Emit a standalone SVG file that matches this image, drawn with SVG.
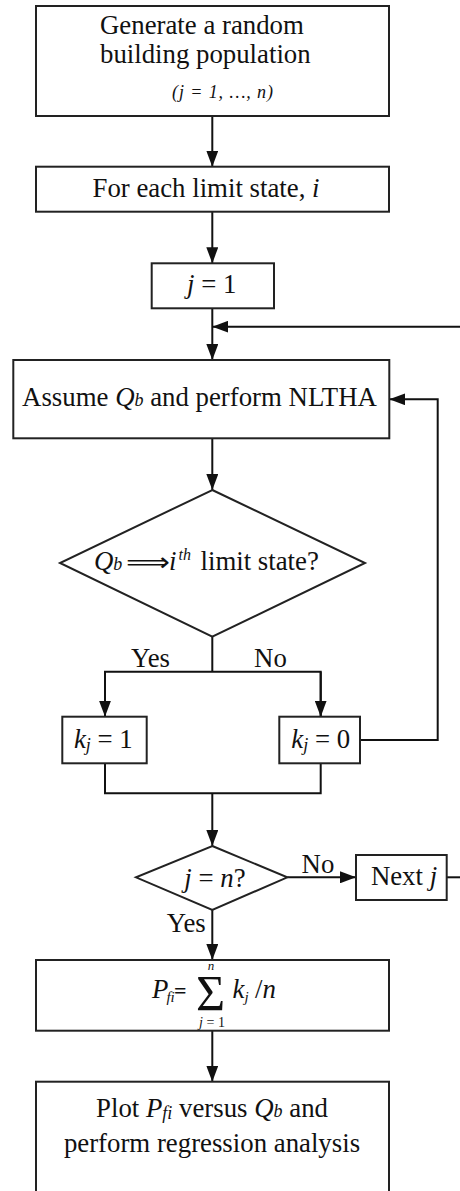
<svg xmlns="http://www.w3.org/2000/svg" width="460" height="1191" viewBox="0 0 460 1191">
<style>
.box{fill:#fff;stroke:#222;stroke-width:2}
.ln{fill:none;stroke:#111;stroke-width:2}
.t{font-family:"Liberation Serif","Times New Roman","DejaVu Serif",serif;font-size:26.8px;fill:#111}
.m{text-anchor:middle}
.i{font-style:italic}
</style>
<defs>
<marker id="ah" markerUnits="userSpaceOnUse" markerWidth="16" markerHeight="12" refX="16" refY="6" orient="auto">
<path d="M0,0 L16,6 L0,12 z" fill="#111"/>
</marker>
</defs>
<rect width="460" height="1191" fill="#fff"/>

<g id="connectors">
<path class="ln" d="M212.3,116 V166.7" marker-end="url(#ah)"/>
<path class="ln" d="M212.3,211.7 V263.3" marker-end="url(#ah)"/>
<path class="ln" d="M212.3,308.3 V360" marker-end="url(#ah)"/>
<path class="ln" d="M460,326.7 H212.3" marker-end="url(#ah)"/>
<path class="ln" d="M212.3,438.3 V490" marker-end="url(#ah)"/>
<path class="ln" d="M212.3,636.7 V671.7"/>
<path class="ln" d="M105,716.7 V671.7 H320.7 V716.7"/>
<path class="ln" d="M105,671.7 V716.7" marker-end="url(#ah)"/>
<path class="ln" d="M320.7,671.7 V716.7" marker-end="url(#ah)"/>
<path class="ln" d="M360,740 H437.7 V399.3 H389.3" marker-end="url(#ah)"/>
<path class="ln" d="M105,763.3 V793.3 H320.7 V763.3"/>
<path class="ln" d="M212.3,793.3 V846" marker-end="url(#ah)"/>
<path class="ln" d="M287.3,877.3 H356" marker-end="url(#ah)"/>
<path class="ln" d="M446.7,877.3 H460"/>
<path class="ln" d="M212.3,910 V960" marker-end="url(#ah)"/>
<path class="ln" d="M212.3,1030.7 V1081.7" marker-end="url(#ah)"/>
<text class="t" x="150.5" y="667.3" text-anchor="middle">Yes</text>
<text class="t" x="270.5" y="667.3" text-anchor="middle">No</text>
<text class="t" x="318" y="873" text-anchor="middle">No</text>
<text class="t" x="186.3" y="931.7" text-anchor="middle">Yes</text>
</g>

<g id="n1">
<rect class="box" x="36" y="6" width="353" height="110"/>
<text class="t" x="100" y="34">Generate a random</text>
<text class="t" x="100" y="63">building population</text>
<text class="t i" x="172" y="97.7" style="font-size:18px" textLength="101" lengthAdjust="spacing">(j = 1, …, n)</text>
</g>

<g id="n2">
<rect class="box" x="36" y="166.7" width="353" height="45"/>
<text class="t m" x="206" y="196.7">For each limit state, <tspan class="i">i</tspan></text>
</g>

<g id="n3">
<rect class="box" x="151.7" y="263.3" width="122.3" height="45"/>
<text class="t m" x="211.7" y="293.3"><tspan class="i">j</tspan> = 1</text>
</g>

<g id="n4">
<rect class="box" x="13.3" y="360" width="376" height="78.3"/>
<text class="t m" x="199.5" y="406">Assume <tspan class="i">Q</tspan><tspan class="i" style="font-size:18px">b</tspan> and perform NLTHA</text>
</g>

<g id="n5">
<polygon class="box" points="212.3,490 365,563 212.3,636.7 60,563"/>
<text class="t i" x="94" y="570">Q<tspan style="font-size:18px">b</tspan></text>
<text class="t" x="126" y="571" style="font-family:'DejaVu Sans',sans-serif;font-size:26px" textLength="44" lengthAdjust="spacingAndGlyphs">⟹</text>
<text class="t i" x="169" y="570">i<tspan style="font-size:16px" dx="2" dy="-10">th</tspan></text>
<text class="t" x="200.5" y="570">limit state?</text>
</g>

<g id="n6">
<rect class="box" x="62.3" y="716.7" width="84.4" height="46.6"/>
<text class="t m" x="103.3" y="748.3"><tspan class="i">k</tspan><tspan class="i" style="font-size:18px" dy="3">j</tspan><tspan dy="-3"> = 1</tspan></text>
</g>

<g id="n7">
<rect class="box" x="279.3" y="716.7" width="80.7" height="46.6"/>
<text class="t m" x="320.7" y="748.3"><tspan class="i">k</tspan><tspan class="i" style="font-size:18px" dy="3">j</tspan><tspan dy="-3"> = 0</tspan></text>
</g>

<g id="n8">
<polygon class="box" points="212.3,846 287.3,877.3 212.3,910 136,877.3"/>
<text class="t m" x="215" y="886.7"><tspan class="i">j</tspan> = <tspan class="i">n</tspan>?</text>
</g>

<g id="n9">
<rect class="box" x="356" y="855" width="90.7" height="45"/>
<text class="t m" x="404" y="885">Next <tspan class="i">j</tspan></text>
</g>

<g id="n10">
<rect class="box" x="36" y="960" width="353" height="70.7"/>
<text class="t i" x="152" y="998.3">P<tspan style="font-size:15px" dx="-2" dy="4">fi</tspan></text>
<text class="t" x="174" y="998.3" style="font-weight:bold;font-size:22px">=</text>
<text class="t" x="196" y="1010" style="font-size:50px">Σ</text>
<text class="t i m" x="211" y="970" style="font-size:13px">n</text>
<text class="t i m" x="212" y="1027" style="font-size:14px">j <tspan style="font-style:normal">= 1</tspan></text>
<text class="t i" x="232.5" y="998.3">k<tspan style="font-size:15px" dy="4">j</tspan></text>
<text class="t" x="255" y="998.3">/<tspan class="i">n</tspan></text>
</g>

<g id="n11">
<rect class="box" x="36" y="1081.7" width="353" height="130"/>
<text class="t m" x="212" y="1116.7">Plot <tspan class="i">P</tspan><tspan class="i" style="font-size:18px" dy="2">fi</tspan><tspan dy="-2"> versus </tspan><tspan class="i">Q</tspan><tspan class="i" style="font-size:18px">b</tspan> and</text>
<text class="t m" x="212" y="1151.7">perform regression analysis</text>
</g>
</svg>
